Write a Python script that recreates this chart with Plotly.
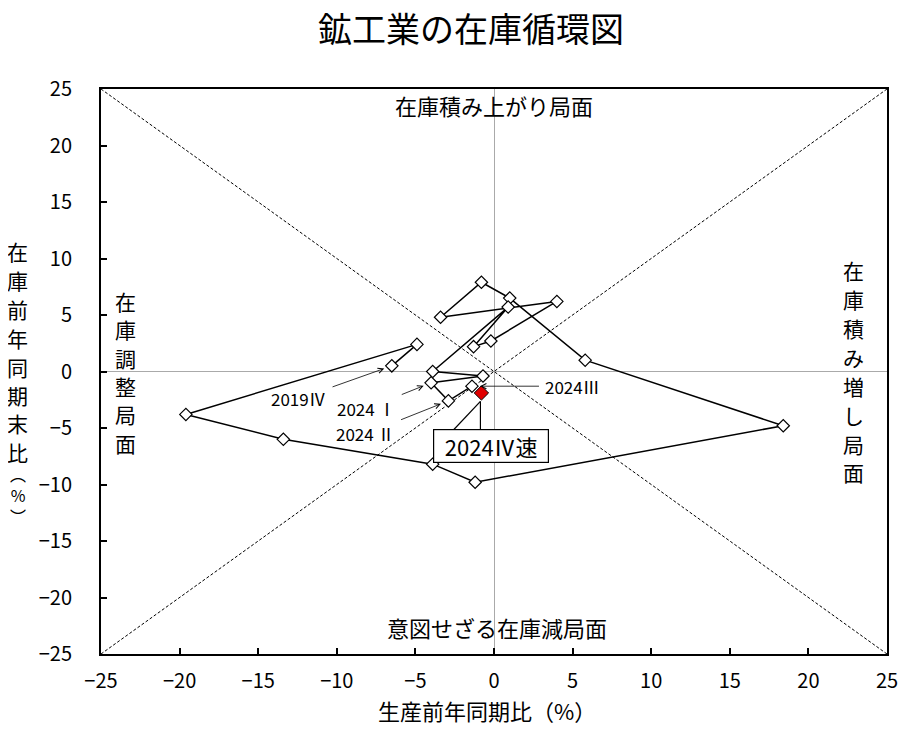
import plotly.graph_objects as go

# 生産・在庫の前年同期比（%）
quarters = ["2019IV", "2020I", "2020II", "2020III", "2020IV", "2021I", "2021II",
            "2021III", "2021IV", "2022I", "2022II", "2022III", "2022IV", "2023I",
            "2023II", "2023III", "2023IV", "2024I", "2024II", "2024III"]
production = [-6.5, -4.9, -19.6, -13.4, -3.9, -1.2, 18.4,
              5.8, 1.0, -0.8, -3.4, 4.0, -0.2, -1.3,
              0.9, -3.9, -0.7, -4.0, -2.9, -1.4]
inventory = [0.5, 2.4, -3.8, -6.0, -8.2, -9.8, -4.8,
             1.0, 6.5, 7.9, 4.8, 6.2, 2.7, 2.2,
             5.7, 0.0, -0.4, -1.0, -2.6, -1.3]
latest_label = "2024Ⅳ速"
latest_prod = [-0.8]
latest_inv = [-1.9]
diag = [-25, 25]

FONT = "Noto Sans CJK JP"

fig = go.Figure()
fig.add_trace(go.Scatter(x=diag, y=diag[::-1], mode="lines",
                         line=dict(color="black", width=1, dash="3px,2px"), hoverinfo="skip"))
fig.add_trace(go.Scatter(x=diag, y=diag, mode="lines",
                         line=dict(color="black", width=1, dash="3px,2px"), hoverinfo="skip"))
fig.add_trace(go.Scatter(x=production, y=inventory, mode="lines+markers", text=quarters,
                         line=dict(color="black", width=1.5),
                         marker=dict(symbol="diamond", size=9.5, color="white",
                                     line=dict(color="black", width=1.2))))
fig.add_trace(go.Scatter(x=latest_prod, y=latest_inv, mode="markers",
                         marker=dict(symbol="diamond", size=11, color="#e00000",
                                     line=dict(color="black", width=1))))

axis = dict(range=[-25, 25], dtick=5, showgrid=False, zeroline=True,
            zerolinecolor="#aaaaaa", zerolinewidth=1, showline=True, linecolor="black",
            linewidth=2, mirror=True, ticks="inside", ticklen=6, tickcolor="black",
            tickwidth=1.5, tickfont=dict(family=FONT, size=20, color="black"))
fig.update_xaxes(**axis, ticklabelstandoff=8)
fig.update_yaxes(**axis, ticklabelstandoff=23)

# the page is drawn 8px in from the window corner, so page pixels are shifted by 8
OFF = 8
PL, PR, PT, PB = 101.3, 886.7, 88.7, 654.0


def paper_x(px):
    return (px - PL) / (PR - PL)


def paper_y(py):
    return (PB - py) / (PB - PT)


ann = []
txt = dict(family=FONT, size=22, color="black")
center = dict(xanchor="center", yanchor="middle", showarrow=False)
ann.append(dict(text="在庫積み上がり局面", x=0, y=23.6, xref="x", yref="y", font=txt, **center))
ann.append(dict(text="意図せざる在庫減局面", x=0.2, y=-22.6, xref="x", yref="y", font=txt, **center))
ann.append(dict(text="生産前年同期比（%）", x=paper_x(487), y=paper_y(710),
                xref="paper", yref="paper", font=txt, **center))


def vertical(chars, px, pys, size=21):
    for ch, py in zip(chars, pys):
        ann.append(dict(text=ch, x=paper_x(px), y=paper_y(py), xref="paper", yref="paper",
                        font=dict(family=FONT, size=size, color="black"), **center))


vertical("在庫前年同期末比", 18, [251, 280, 309, 338, 367, 395, 423, 452])
ann.append(dict(text="︵<br>%<br>︶", x=paper_x(18), y=paper_y(495), xref="paper",
                yref="paper", font=dict(family=FONT, size=16, color="black"), **center))
vertical("在庫調整局面", 126, [301 + 28.3 * i for i in range(6)])
vertical("在庫積み増し局面", 853, [270 + 28.9 * i for i in range(8)])

small = dict(family=FONT, size=17, color="black")
arrow = dict(showarrow=True, arrowhead=5, arrowsize=1.3, arrowwidth=0.8,
             arrowcolor="black", xref="x", yref="y", font=small)
callouts = [("2019Ⅳ", 0, -93, 33), ("2024 Ⅰ", 17, -65, 26),
            ("2024 Ⅱ", 18, -83, 33), ("2024Ⅲ", 19, 101, 0)]
for label, i, ax, ay in callouts:
    ann.append(dict(text=label, x=production[i], y=inventory[i], ax=ax, ay=ay,
                    standoff=8, startstandoff=5, **arrow))

ann.append(dict(text=latest_label, x=latest_prod[0], y=latest_inv[0], xref="x", yref="y",
                showarrow=False, xshift=9.5, yshift=-53, width=110, height=28,
                bordercolor="black", borderwidth=1.2, borderpad=2, bgcolor="white",
                font=dict(family=FONT, size=22, color="black")))

shapes = []
for x0 in (-28, -1):
    shapes.append(dict(type="line", xref="x", yref="y", xsizemode="pixel", ysizemode="pixel",
                       xanchor=latest_prod[0], yanchor=latest_inv[0],
                       x0=x0, y0=-37, x1=-1, y1=-8.4,
                       line=dict(color="black", width=1.2)))

fig.update_layout(
    width=922, height=731,
    margin=dict(l=PL - OFF, r=922 - PR + OFF, t=PT - OFF, b=731 - PB + OFF),
    paper_bgcolor="white", plot_bgcolor="white",
    showlegend=False,
    title=dict(text="鉱工業の在庫循環図", x=(471 - OFF) / 922, xanchor="center",
               y=1 - (30 - OFF) / 731, yanchor="middle", xref="container", yref="container",
               font=dict(family=FONT, size=34, color="black")),
    annotations=ann, shapes=shapes,
)

fig.write_html("out.html")
